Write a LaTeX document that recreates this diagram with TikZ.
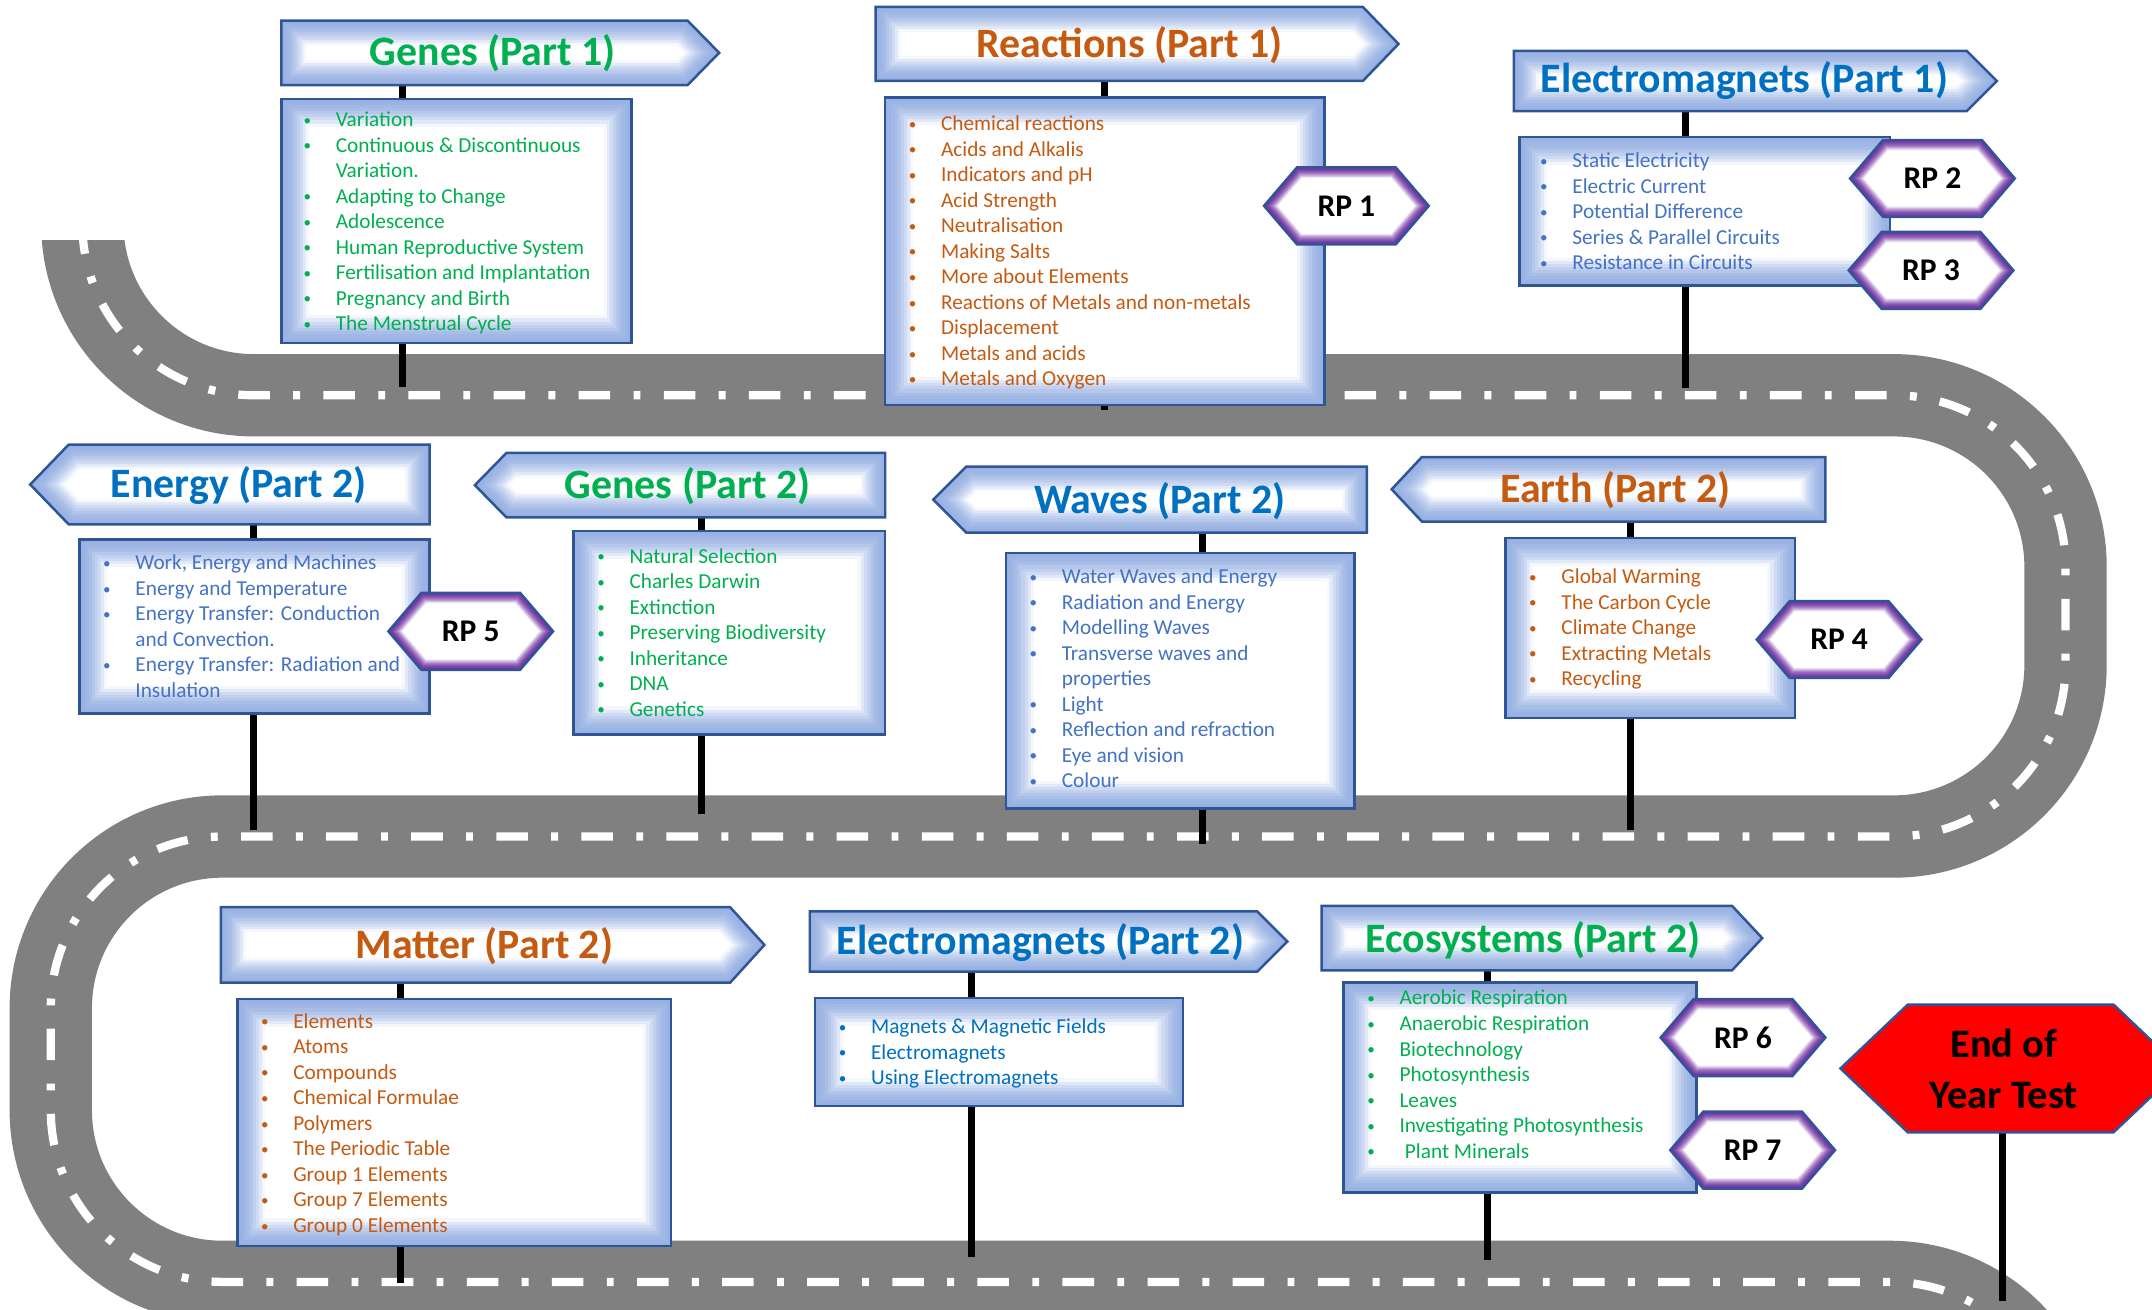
\documentclass[tikz,border=0pt]{standalone}
\usepackage{fontspec}
\setmainfont{Carlito}

\definecolor{cor_green}{RGB}{0,176,80}
\definecolor{cor_orange}{RGB}{197,90,17}
\definecolor{cor_blue}{RGB}{0,112,192}
\definecolor{cor_itemblue}{RGB}{68,114,196}
\definecolor{cor_glow}{RGB}{150,176,226}
\definecolor{cor_edge}{RGB}{47,85,151}
\definecolor{cor_purple}{RGB}{112,48,160}
\definecolor{cor_road}{RGB}{128,128,128}

% sign face: white with a soft inner glow, then the edge
\newcommand{\glowsign}[3]{%
  \begin{scope}
    \clip #1;
    \fill[white] #1;
    \foreach \k in {9,...,1}{
      \pgfmathsetmacro{\lw}{#3*\k}
      \pgfmathtruncatemacro{\mix}{100-1.1*\k*\k}
      \draw[line width=\lw pt, #2!\mix!white] #1;
    }
  \end{scope}
  \draw[edge] #1;
}
\newcommand{\listbullet}{\strut\makebox[23.5pt][l]{\raisebox{1pt}{\fontsize{11}{11}\selectfont\textbullet}}}
\newcommand{\listcont}{\strut\hspace*{23.5pt}}

\begin{document}
\begin{tikzpicture}[x=1pt,y=-1pt]
        \tikzset{
            road/.style={line width=60pt, cor_road, rounded corners=125pt},
            roadline/.style={line width=6pt, white, rounded corners=125pt,
                dash pattern=on 23pt off 17pt on 5pt off 17pt},
            post/.style={line width=5pt, black},
            edge/.style={draw=cor_edge, line width=1.8pt, line join=miter},
            title/.style={inner sep=0pt, font=\bfseries\fontsize{30.5}{36}\selectfont},
            items/.style={anchor=north west, inner sep=0pt, align=left,
                font=\fontsize{15.5}{18.6}\selectfont},
            rplabel/.style={inner sep=0pt, font=\bfseries\fontsize{23}{27}\selectfont}
        }
        \useasboundingbox (0,0) rectangle (1568,954);

        %estrada
        \begin{scope}
            \clip (0,175) rectangle (1568,954);
            \draw[road] (60,100) -- (60,288) -- (1505,288) -- (1505,609.5)
                -- (37,609.5) -- (37,934) -- (1502,934) -- (1502,1100);
            \draw[roadline] (60,100) -- (60,288) -- (1505,288) -- (1505,609.5)
                -- (37,609.5) -- (37,934) -- (1502,934) -- (1502,1100);
        \end{scope}

        %postes
        \foreach \p/\x/\ya/\yb in {genesA/293/62/282, reactA/805/59/299,
            emagA/1228/81/283, energyB/185/382/605, genesB/511/377/593,
            wavesB/876/388/615, earthB/1188/380/605, matterB/292/716/935,
            emagB/708/708/916, ecoB/1084/707/918, endtest/1459/825/948}{
            \coordinate (\p-top) at (\x,\ya);
            \coordinate (\p-foot) at (\x,\yb);
            \draw[post] (\p-top) -- (\p-foot);
        }

        %linha 1
        \glowsign{(205,15) -- (501,15) -- (524,38.5) -- (501,62) -- (205,62) -- cycle}{cor_glow}{4}
        \node[title, text=cor_green] (genesA) at (359,39) {Genes (Part 1)};
        \glowsign{(205,72) rectangle (460,250)}{cor_glow}{4.5}
        \node[items, text=cor_green] (genesA-list) at (221,79) {\listbullet Variation\\
            \listbullet Continuous \& Discontinuous\\ \listcont Variation.\\
            \listbullet Adapting to Change\\ \listbullet Adolescence\\
            \listbullet Human Reproductive System\\ \listbullet Fertilisation and Implantation\\
            \listbullet Pregnancy and Birth\\ \listbullet The Menstrual Cycle};

        \glowsign{(638,5) -- (993,5) -- (1019,32) -- (993,59) -- (638,59) -- cycle}{cor_glow}{4}
        \node[title, text=cor_orange] (reactA) at (823,33) {Reactions (Part 1)};
        \glowsign{(645,71) rectangle (965,295)}{cor_glow}{4.5}
        \node[items, text=cor_orange] (reactA-list) at (662,82) {\listbullet Chemical reactions\\
            \listbullet Acids and Alkalis\\ \listbullet Indicators and pH\\
            \listbullet Acid Strength\\ \listbullet Neutralisation\\
            \listbullet Making Salts\\ \listbullet More about Elements\\
            \listbullet Reactions of Metals and non-metals\\ \listbullet Displacement\\
            \listbullet Metals and acids\\ \listbullet Metals and Oxygen};

        \glowsign{(1103,37) -- (1433,37) -- (1455,59) -- (1433,81) -- (1103,81) -- cycle}{cor_glow}{4}
        \node[title, text=cor_blue] (emagA) at (1271,59) {Electromagnets (Part 1)};
        \glowsign{(1107,100) rectangle (1377,208)}{cor_glow}{4.5}
        \node[items, text=cor_itemblue] (emagA-list) at (1122,109) {\listbullet Static Electricity\\
            \listbullet Electric Current\\ \listbullet Potential Difference\\
            \listbullet Series \& Parallel Circuits\\ \listbullet Resistance in Circuits};

        %linha 2
        \glowsign{(22,353) -- (50,324) -- (313,324) -- (313,382) -- (50,382) -- cycle}{cor_glow}{4}
        \node[title, text=cor_blue] (energyB) at (174,354) {Energy (Part 2)};
        \glowsign{(58,393) rectangle (313,520)}{cor_glow}{4.5}
        \node[items, text=cor_itemblue] (energyB-list) at (75,402) {\listbullet Work, Energy and Machines\\
            \listbullet Energy and Temperature\\ \listbullet Energy Transfer: Conduction\\
            \listcont and Convection.\\ \listbullet Energy Transfer: Radiation and\\
            \listcont Insulation};

        \glowsign{(346,353.5) -- (369,330) -- (645,330) -- (645,377) -- (369,377) -- cycle}{cor_glow}{4}
        \node[title, text=cor_green] (genesB) at (501,354) {Genes (Part 2)};
        \glowsign{(418,387) rectangle (645,535)}{cor_glow}{4.5}
        \node[items, text=cor_green] (genesB-list) at (435,397) {\listbullet Natural Selection\\
            \listbullet Charles Darwin\\ \listbullet Extinction\\
            \listbullet Preserving Biodiversity\\ \listbullet Inheritance\\
            \listbullet DNA\\ \listbullet Genetics};

        \glowsign{(680,364) -- (704,340) -- (996,340) -- (996,388) -- (704,388) -- cycle}{cor_glow}{4}
        \node[title, text=cor_blue] (wavesB) at (845,365) {Waves (Part 2)};
        \glowsign{(733,403) rectangle (987,589)}{cor_glow}{4.5}
        \node[items, text=cor_itemblue] (wavesB-list) at (750,412) {\listbullet Water Waves and Energy\\
            \listbullet Radiation and Energy\\ \listbullet Modelling Waves\\
            \listbullet Transverse waves and\\ \listcont properties\\
            \listbullet Light\\ \listbullet Reflection and refraction\\
            \listbullet Eye and vision\\ \listbullet Colour};

        \glowsign{(1014,356.5) -- (1036,333) -- (1330,333) -- (1330,380) -- (1036,380) -- cycle}{cor_glow}{4}
        \node[title, text=cor_orange] (earthB) at (1177,357) {Earth (Part 2)};
        \glowsign{(1097,392) rectangle (1308,523)}{cor_glow}{4.5}
        \node[items, text=cor_orange] (earthB-list) at (1114,412) {\listbullet Global Warming\\
            \listbullet The Carbon Cycle\\ \listbullet Climate Change\\
            \listbullet Extracting Metals\\ \listbullet Recycling};

        %linha 3
        \glowsign{(161,661) -- (532,661) -- (557,688.5) -- (532,716) -- (161,716) -- cycle}{cor_glow}{4}
        \node[title, text=cor_orange] (matterB) at (353,689) {Matter (Part 2)};
        \glowsign{(173,728) rectangle (489,908)}{cor_glow}{4.5}
        \node[items, text=cor_orange] (matterB-list) at (190,736) {\listbullet Elements\\
            \listbullet Atoms\\ \listbullet Compounds\\ \listbullet Chemical Formulae\\
            \listbullet Polymers\\ \listbullet The Periodic Table\\
            \listbullet Group 1 Elements\\ \listbullet Group 7 Elements\\
            \listbullet Group 0 Elements};

        \glowsign{(590,664) -- (916,664) -- (938,686) -- (916,708) -- (590,708) -- cycle}{cor_glow}{4}
        \node[title, text=cor_blue] (emagB) at (758,687) {Electromagnets (Part 2)};
        \glowsign{(594,727) rectangle (862,806)}{cor_glow}{4.5}
        \node[items, text=cor_blue] (emagB-list) at (611,740) {\listbullet Magnets \& Magnetic Fields\\
            \listbullet Electromagnets\\ \listbullet Using Electromagnets};

        \glowsign{(963,660) -- (1262,660) -- (1284,683.5) -- (1262,707) -- (963,707) -- cycle}{cor_glow}{4}
        \node[title, text=cor_green] (ecoB) at (1117,685) {Ecosystems (Part 2)};
        \glowsign{(979,716) rectangle (1236,869)}{cor_glow}{4.5}
        \node[items, text=cor_green] (ecoB-list) at (996,719) {\listbullet Aerobic Respiration\\
            \listbullet Anaerobic Respiration\\ \listbullet Biotechnology\\
            \listbullet Photosynthesis\\ \listbullet Leaves\\
            \listbullet Investigating Photosynthesis\\ \listbullet\hspace*{4pt}Plant Minerals};

        %praticas
        \foreach \rp/\cx/\cy/\txt in {rp1/981/150/RP 1, rp2/1408/130/RP 2, rp3/1407/197/RP 3,
            rp4/1340/466/RP 4, rp5/343/460/RP 5, rp6/1270/756/RP 6, rp7/1277/838/RP 7}{
            \glowsign{(\cx-60,\cy) -- ++(24,-28) -- ++(72,0) -- ++(24,28) -- ++(-24,28) -- ++(-72,0) -- cycle}{cor_purple}{1.7}
            \node[rplabel] (\rp) at (\cx,\cy) {\txt};
        }

        %fim
        \draw[edge, fill=red] (1341,778.5) -- (1390,732) -- (1540,732) -- (1589,778.5)
            -- (1540,825) -- (1390,825) -- cycle;
        \node[align=center, inner sep=0pt, font=\bfseries\fontsize{29.5}{37}\selectfont]
            (endtest) at (1460,779) {End of\\Year Test};

    \end{tikzpicture}
\end{document}
